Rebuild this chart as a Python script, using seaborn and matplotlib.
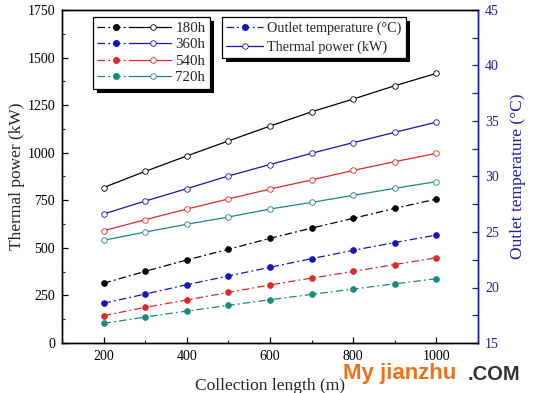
import matplotlib
matplotlib.use("Agg")
import matplotlib.pyplot as plt
import seaborn as sns
import pandas as pd
from matplotlib.lines import Line2D
from matplotlib.legend_handler import HandlerTuple
from matplotlib.patches import Rectangle
from matplotlib.transforms import IdentityTransform
from matplotlib.ticker import MultipleLocator

# ---- data ----
length_m = [200, 300, 400, 500, 600, 700, 800, 900, 1000]
hours = ["180h", "360h", "540h", "720h"]
power_180 = [817, 902, 983, 1062, 1140, 1215, 1282, 1352, 1417]
power_360 = [678, 746, 811, 878, 938, 997, 1053, 1107, 1161]
power_540 = [590, 648, 704, 757, 809, 857, 907, 953, 997]
power_720 = [540, 583, 624, 662, 704, 739, 776, 813, 848]
temp_180 = [20.38, 21.46, 22.48, 23.44, 24.43, 25.35, 26.23, 27.13, 27.97]
temp_360 = [18.58, 19.41, 20.25, 21.04, 21.82, 22.60, 23.35, 24.05, 24.73]
temp_540 = [17.46, 18.21, 18.87, 19.56, 20.23, 20.85, 21.45, 22.07, 22.68]
temp_720 = [16.77, 17.34, 17.88, 18.39, 18.90, 19.38, 19.86, 20.33, 20.79]

powers = [power_180, power_360, power_540, power_720]
temps = [temp_180, temp_360, temp_540, temp_720]
colors = ["#000000", "#1515B5", "#E02828", "#1A8A7C"]
axis2_color = "#1E1EA0"

sns.set_style("ticks")
plt.rcParams["font.family"] = ["Liberation Serif", "DejaVu Serif"]

fig = plt.figure(figsize=(5.35, 3.93), dpi=100)
ax = fig.add_axes([62/535, 1-343/393, (478-62)/535, (343-10)/393])
ax2 = ax.twinx()

dash_dot = (6, 2.5, 1.5, 2.5)
lw = 0.9
for h, p, t, c in zip(hours, powers, temps, colors):
    dfp = pd.DataFrame({"x": length_m, "y": p})
    dft = pd.DataFrame({"x": length_m, "y": t})
    sns.lineplot(data=dfp, x="x", y="y", ax=ax, color=c, lw=lw, marker="o",
                 markersize=4.0, markerfacecolor="white", markeredgecolor=c,
                 markeredgewidth=0.6, legend=False)
    sns.lineplot(data=dft, x="x", y="y", ax=ax2, color=c, lw=lw, marker="o",
                 markersize=4.0, markerfacecolor=c, markeredgecolor=c,
                 dashes=False, legend=False, linestyle=(0, dash_dot))

ax.set_xlim(100, 1100)
ax.set_ylim(0, 1750)
ax2.set_ylim(15, 45)
ax.xaxis.set_major_locator(MultipleLocator(200))
ax.xaxis.set_minor_locator(MultipleLocator(100))
ax.yaxis.set_major_locator(MultipleLocator(250))
ax.yaxis.set_minor_locator(MultipleLocator(125))
ax2.yaxis.set_major_locator(MultipleLocator(5))
ax2.yaxis.set_minor_locator(MultipleLocator(2.5))

for a in (ax, ax2):
    for s in a.spines.values():
        s.set_linewidth(1.0)
        s.set_color("black")
ax2.spines["right"].set_color(axis2_color)

ax.tick_params(axis="both", which="major", direction="in", length=4, width=0.9,
               labelsize=10, colors="black", top=False, right=False, pad=5)
ax.tick_params(axis="both", which="minor", direction="in", length=2.5, width=0.8,
               top=False, right=False)
ax2.tick_params(axis="y", which="major", direction="in", length=4, width=0.9,
                labelsize=10, colors=axis2_color, pad=5)
ax2.tick_params(axis="y", which="minor", direction="in", length=4, width=0.9,
                colors=axis2_color)

ax.set_xlabel("Collection length (m)", fontsize=12.5)
ax.set_ylabel("Thermal power (kW)", fontsize=12.5)
ax2.set_ylabel("Outlet temperature (°C)", fontsize=12.5, color=axis2_color)
ax.xaxis.set_label_coords(0.5, -0.105)
ax.yaxis.set_label_coords(-0.108, 0.5)
ax2.yaxis.set_label_coords(1.096, 0.5)
ax2.yaxis.label.set_va("center")
ax.yaxis.label.set_va("center")

# ---- legends ----
handles1 = []
for c in colors:
    hf = Line2D([], [], color=c, lw=lw, linestyle=(0, dash_dot), marker="o",
                markersize=4.0, markerfacecolor=c, markeredgecolor=c)
    ho = Line2D([], [], color=c, lw=lw, marker="o", markersize=4.0,
                markerfacecolor="white", markeredgecolor=c, markeredgewidth=0.6)
    handles1.append((hf, ho))
leg1 = ax2.legend(handles1, hours, loc="upper left", bbox_to_anchor=(0.0745, 0.979),
                  handler_map={tuple: HandlerTuple(ndivide=None, pad=0.0)},
                  handlelength=4.9, numpoints=1, fontsize=10.8, frameon=True,
                  fancybox=False, framealpha=1, edgecolor="black",
                  borderpad=0.3, labelspacing=0.2, handletextpad=0.3,
                  borderaxespad=0)
leg1.get_frame().set_linewidth(0.9)
ax2.add_artist(leg1)

h2a = Line2D([], [], color=colors[1], lw=lw, linestyle=(0, dash_dot), marker="o",
             markersize=4.0, markerfacecolor=colors[1], markeredgecolor=colors[1])
h2b = Line2D([], [], color=colors[1], lw=lw, marker="o", markersize=4.0,
             markerfacecolor="white", markeredgecolor=colors[1], markeredgewidth=0.6)
leg2 = ax2.legend([h2a, h2b], ["Outlet temperature (°C)", "Thermal power (kW)"],
                  loc="upper left", bbox_to_anchor=(0.385, 0.979),
                  handlelength=2.6, numpoints=1, fontsize=10.2, frameon=True,
                  fancybox=False, framealpha=1, edgecolor="black",
                  borderpad=0.3, labelspacing=0.4, handletextpad=0.3,
                  borderaxespad=0)
leg2.get_frame().set_linewidth(0.9)

# black offset shadows behind legends
fig.canvas.draw()
for lg in (leg1, leg2):
    bb = lg.get_frame().get_window_extent()
    ax2.add_patch(Rectangle((bb.x0 + 4, bb.y0 - 4), bb.width, bb.height,
                            transform=IdentityTransform(), facecolor="black",
                            edgecolor="none", zorder=lg.get_zorder() - 0.5,
                            clip_on=False))

# watermark
fig.text(343/535, 1-384/393, "My jianzhu", color="#F07018", fontsize=16,
         fontweight="bold", family="Liberation Sans", ha="left", va="bottom")
fig.text(468/535, 1-384/393, ".COM", color="#333333", fontsize=14.5,
         fontweight="bold", family="Liberation Sans", ha="left", va="bottom")

fig.savefig("out.png", dpi=100)
